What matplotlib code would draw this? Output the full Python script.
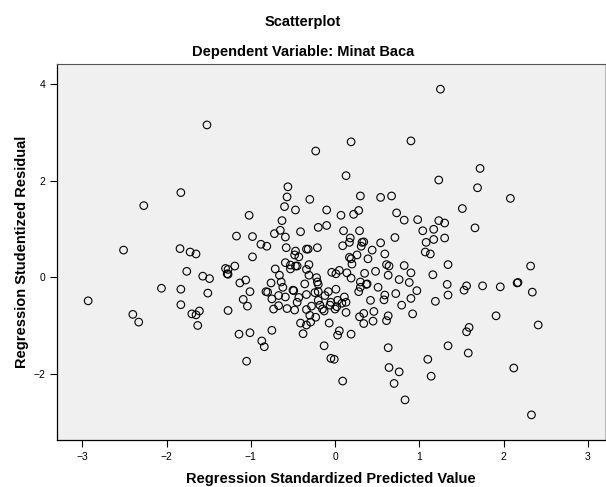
import matplotlib
matplotlib.use('Agg')
import matplotlib.pyplot as plt

plt.rcParams['font.family'] = ['Liberation Sans', 'DejaVu Sans']

# standardized predicted value (x) and studentized residual (y)
pred = [
    -1.52, -1.83, -0.23, 0.19, 0.90, 0.13, -0.56, 1.25, 1.72, 1.23, 1.69,
    -2.27, -2.51, -1.84, -1.72, -1.65, -1.17, -1.76, -1.57, -1.49, -1.30,
    -1.27, -1.28, -1.27, -1.19, -1.13, -1.06, -1.01, -2.06, -1.83, -1.51,
    -2.93, -1.83, -2.40, -2.33, -1.70, -1.65, -1.61, -1.63, -1.27, -1.09,
    -1.04, -1.14, -1.01, -1.05,
    -0.57, -0.30, 0.30, 0.54, 0.67, -1.02, -0.60, -0.47, -0.10, 0.07,
    0.22, 0.28, 0.73, 0.82, 0.98, -0.63, -0.65, -0.72, -0.59, -0.41,
    -0.20, -0.10, 0.10, 0.29, -0.98, -0.88, -0.81, -0.58, -0.47, -0.34,
    -0.32, -0.21, 0.09, 0.18, 0.17, 0.32, 0.34, 0.31, 0.44, 0.54,
    0.71, -0.98, -0.48, -0.43, 0.26, 0.17, 0.19, 0.20, 0.39, 0.59,
    -0.59, -0.53, -0.47, -0.45, -0.31, -0.34, -0.53, -0.71, 0.61, 0.64,
    0.82, 0.90, -0.04, 0.01, 0.05, 0.14, 0.35, 0.48, 0.63, -0.66,
    -0.31, -0.22, -0.21, -0.64, -0.76, 0.19, 0.30, 0.38, 0.37, 0.76,
    0.88, -0.62, -0.50, -0.49, -0.36, -0.20, 0.01, 0.30, 0.28, 0.51,
    -0.82, -0.80, -0.67, -0.59, -0.34, -0.24, -0.20, -0.12, -0.08, 0.11,
    0.59, 0.72, 0.97, 0.58, 0.90, -0.75, -0.45, -0.43, -0.20, 0.03,
    -0.05, 0.08, 0.13, 0.42, -0.73, -0.67, -0.57, -0.48, -0.34, -0.28,
    -0.30, -0.18, -0.15, -0.06, 0.00, 0.02, -0.13, 0.13, 0.34, 0.29,
    0.34, 0.46, 0.45, 0.79, 0.63, 0.61, 0.92, -0.23, -0.29, -0.34,
    -0.41, -0.38, -0.07, 0.05, 0.03, 0.19, -0.87, -0.84, -0.75, -0.13,
    -0.05, -0.01, 0.09, 0.63, 0.64, 0.76, 0.70, 0.83,
    2.08, 1.51, 1.23, 1.30, 1.66, 1.04, 1.17, 1.30, 1.17, 1.08,
    1.07, 1.13, 1.34, 2.32, 1.16, 1.33, 1.56, 1.53, 1.75, 1.96,
    2.17, 2.16, 2.34, 1.34, 1.19, 1.91, 2.41, 1.59, 1.56, 1.34,
    1.58, 1.10, 2.12, 1.14, 2.33,
]
resid = [
    3.15, 1.75, 2.61, 2.80, 2.82, 2.10, 1.87, 3.89, 2.25, 2.01, 1.85,
    1.48, 0.56, 0.59, 0.52, 0.48, 0.85, 0.12, 0.02, -0.03, 0.18,
    0.16, 0.07, 0.06, 0.23, -0.12, -0.06, -0.30, -0.23, -0.25, -0.33,
    -0.49, -0.57, -0.77, -0.93, -0.76, -0.78, -0.70, -1.00, -0.69, -0.46,
    -0.60, -1.18, -1.15, -1.74,
    1.66, 1.61, 1.68, 1.65, 1.68, 1.28, 1.46, 1.39, 1.39, 1.28,
    1.30, 1.38, 1.33, 1.18, 1.19, 1.17, 0.97, 0.90, 0.83, 0.94,
    1.03, 1.07, 0.96, 0.96, 0.84, 0.68, 0.64, 0.61, 0.54, 0.58,
    0.58, 0.61, 0.65, 0.81, 0.72, 0.72, 0.73, 0.64, 0.56, 0.71,
    0.82, 0.42, 0.46, 0.42, 0.46, 0.41, 0.38, 0.27, 0.38, 0.48,
    0.30, 0.25, 0.23, 0.23, 0.26, 0.16, 0.17, 0.17, 0.26, 0.23,
    0.24, 0.09, 0.10, 0.07, 0.14, 0.09, 0.08, 0.12, 0.04, 0.04,
    0.04, -0.01, -0.10, -0.10, -0.12, -0.02, -0.10, -0.14, -0.15, -0.05,
    -0.11, -0.21, -0.27, -0.28, -0.14, -0.15, -0.25, -0.21, -0.30, -0.21,
    -0.30, -0.31, -0.38, -0.41, -0.36, -0.32, -0.30, -0.38, -0.30, -0.41,
    -0.37, -0.34, -0.28, -0.47, -0.44, -0.45, -0.52, -0.42, -0.48, -0.48,
    -0.52, -0.54, -0.52, -0.48, -0.66, -0.59, -0.65, -0.68, -0.67, -0.60,
    -0.79, -0.58, -0.66, -0.58, -0.66, -0.61, -0.70, -0.73, -0.75, -0.82,
    -0.96, -0.71, -0.91, -0.58, -0.80, -0.90, -0.76, -0.83, -0.93, -0.99,
    -0.95, -1.17, -0.95, -1.11, -1.20, -1.18, -1.32, -1.44, -1.10, -1.42,
    -1.68, -1.70, -2.15, -1.46, -1.87, -1.96, -2.20, -2.54,
    1.63, 1.42, 1.17, 1.12, 1.02, 0.96, 0.99, 0.81, 0.78, 0.72,
    0.52, 0.48, 0.26, 0.23, 0.05, -0.15, -0.18, -0.27, -0.18, -0.20,
    -0.11, -0.12, -0.31, -0.37, -0.50, -0.80, -0.99, -1.04, -1.13, -1.42,
    -1.57, -1.70, -1.88, -2.05, -2.85,
]
x_ticks = [-3, -2, -1, 0, 1, 2, 3]
y_ticks = [-2, 0, 2, 4]

fig = plt.figure(figsize=(6.06, 4.87), dpi=100)
ax = fig.add_axes([0.094, 0.0965, 0.904, 0.772])
ax.set_facecolor('#f0f0f0')

ax.scatter(pred, resid, s=30, facecolors='none', edgecolors='black', linewidths=0.8)

ax.set_xlim(-3.30, 3.20)
ax.set_ylim(-3.37, 4.41)
ax.set_xticks(x_ticks)
ax.set_yticks(y_ticks)
ax.tick_params(labelsize=7.5, length=5, width=0.8, direction='out', colors='black')

for side in ['left', 'bottom']:
    ax.spines[side].set_color('black')
    ax.spines[side].set_linewidth(0.9)
ax.spines['top'].set_color('#555555')
ax.spines['right'].set_color('#bbbbbb')

ax.set_xlabel('Regression Standardized Predicted Value', fontsize=10.5, fontweight='bold', labelpad=7)
ax.set_ylabel('Regression Studentized Residual', fontsize=10.5, fontweight='bold', labelpad=3)

fig.text(0.5, 0.955, 'Scatterplot', ha='center', va='center', fontsize=10.5, fontweight='bold')
fig.text(0.5, 0.893, 'Dependent Variable: Minat Baca', ha='center', va='center', fontsize=10.5, fontweight='bold')

fig.savefig('out.png', dpi=100)
